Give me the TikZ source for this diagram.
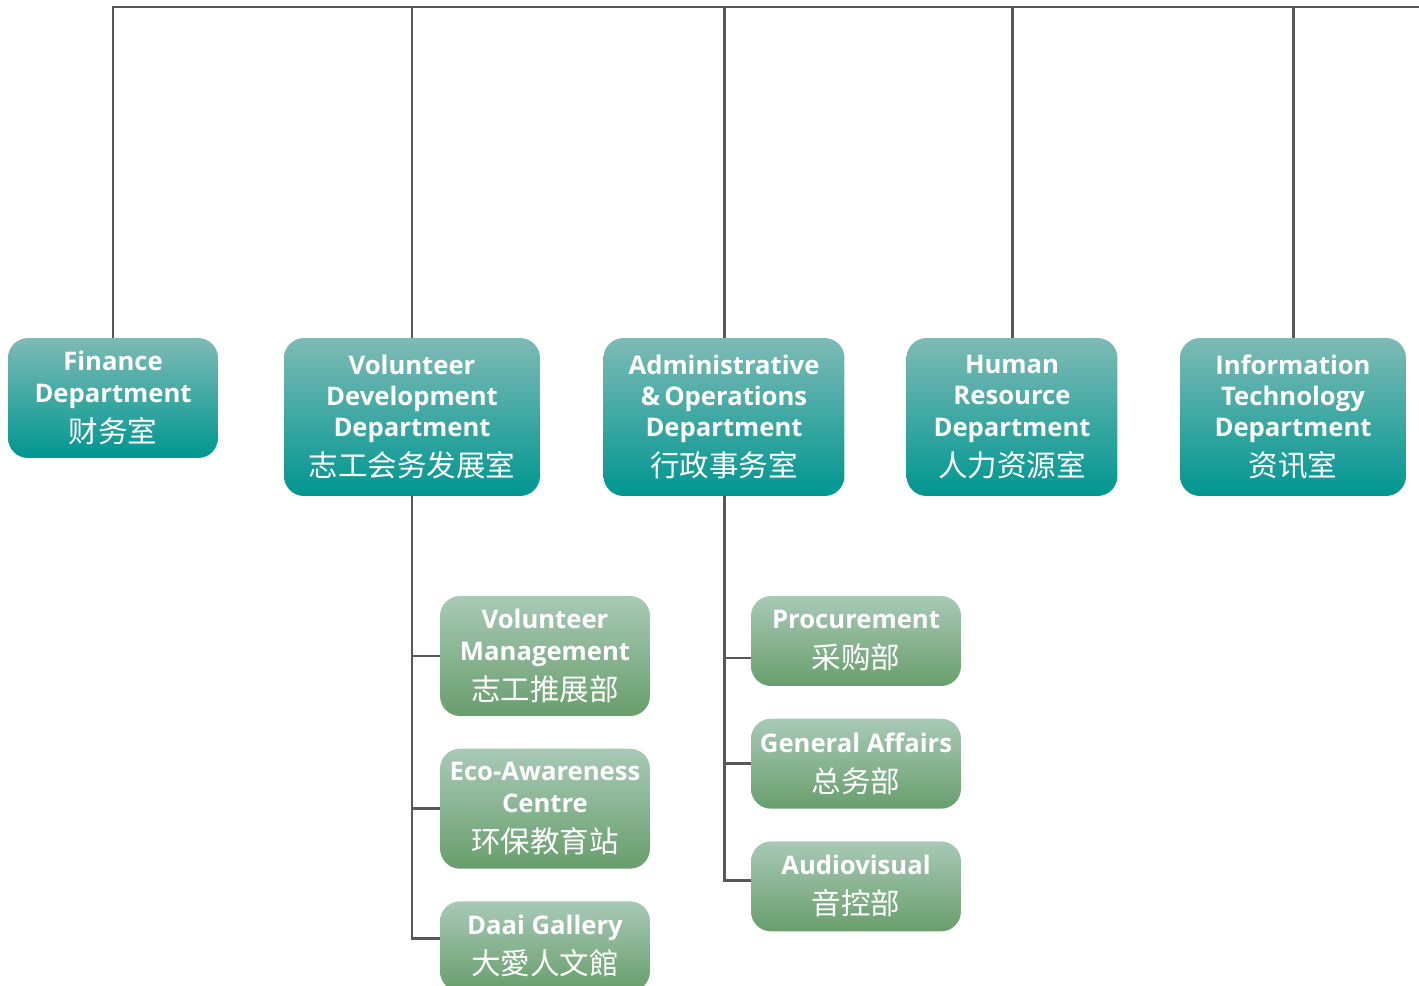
\documentclass[tikz,border=0pt]{standalone}
\usepackage{fontspec}
\setmainfont{Open Sans}
\newfontfamily\cjk{Noto Sans CJK SC}
\usepackage{tikz}
\usetikzlibrary{positioning}
\definecolor{DeptTop}{RGB}{126,186,181}
\definecolor{DeptBottom}{RGB}{0,150,145}
\definecolor{UnitTop}{RGB}{168,201,182}
\definecolor{UnitBottom}{RGB}{104,158,108}
\definecolor{LinkGray}{RGB}{88,88,88}
\newcommand\zh[1]{{\cjk\mdseries\fontsize{16.8}{17.8}\selectfont #1}}

\begin{document}
\begin{tikzpicture}[
    x=0.02cm, y=-0.02cm,
    dept/.style={rounded corners=0.4cm, top color=DeptTop, bottom color=DeptBottom,
                 text=white, align=center, inner sep=0pt, minimum height=3.16cm,
                 font=\fontsize{14.6}{17.8}\selectfont\bfseries},
    unit/.style={rounded corners=0.4cm, top color=UnitTop, bottom color=UnitBottom,
                 text=white, align=center, inner sep=0pt, minimum width=4.2cm,
                 minimum height=1.8cm, font=\fontsize{14.6}{17.8}\selectfont\bfseries},
    link/.style={draw=LinkGray, line width=1.7pt},
    node distance=0.64cm
]
    \useasboundingbox (0,0) rectangle (1419,986);
    % departments
    \node[dept, minimum width=4.2cm, minimum height=2.4cm] (fin) at (113,398)
        {Finance\\Department\\[5pt]\zh{财务室}};
    \node[dept, minimum width=5.12cm] (vol) at (412,417)
        {Volunteer\\Development\\Department\\[5pt]\zh{志工会务发展室}};
    \node[dept, minimum width=4.82cm] (adm) at (724,417)
        {Administrative\\\&\,Operations\\Department\\[5pt]\zh{行政事务室}};
    \node[dept, minimum width=4.22cm] (hr) at (1012,417)
        {Human\\Resource\\Department\\[5pt]\zh{人力资源室}};
    \node[dept, minimum width=4.52cm] (it) at (1293,417)
        {Information\\Technology\\Department\\[5pt]\zh{资讯室}};
    % units
    \node[unit, minimum height=2.4cm] (vmgt) at (545,656)
        {Volunteer\\Management\\[5pt]\zh{志工推展部}};
    \node[unit, minimum height=2.4cm, below=of vmgt] (eco)
        {Eco-Awareness\\Centre\\[5pt]\zh{环保教育站}};
    \node[unit, below=of eco] (daai)
        {Daai Gallery\\[5pt]\zh{大愛人文館}};
    \node[unit] (proc) at (856,641)
        {Procurement\\[5pt]\zh{采购部}};
    \node[unit, below=of proc] (gen)
        {General Affairs\\[5pt]\zh{总务部}};
    \node[unit, below=of gen] (av)
        {Audiovisual\\[5pt]\zh{音控部}};
    % connectors
    \coordinate (topR) at (1419,7);
    \draw[link] (fin.north) |- (topR);
    \draw[link] (vol.north) -- (vol.north |- topR);
    \draw[link] (adm.north) -- (adm.north |- topR);
    \draw[link] (hr.north) -- (hr.north |- topR);
    \draw[link] (it.north) -- (it.north |- topR);
    \draw[link] (vol.south) |- (vmgt.west);
    \draw[link] (vol.south) |- (eco.west);
    \draw[link] (vol.south) |- ([yshift=0.16cm]daai.west);
    \draw[link] (adm.south) |- ([yshift=-0.34cm]proc.west);
    \draw[link] (adm.south) |- (gen.west);
    \draw[link] (adm.south) |- ([yshift=0.12cm]av.west);
\end{tikzpicture}
\end{document}
